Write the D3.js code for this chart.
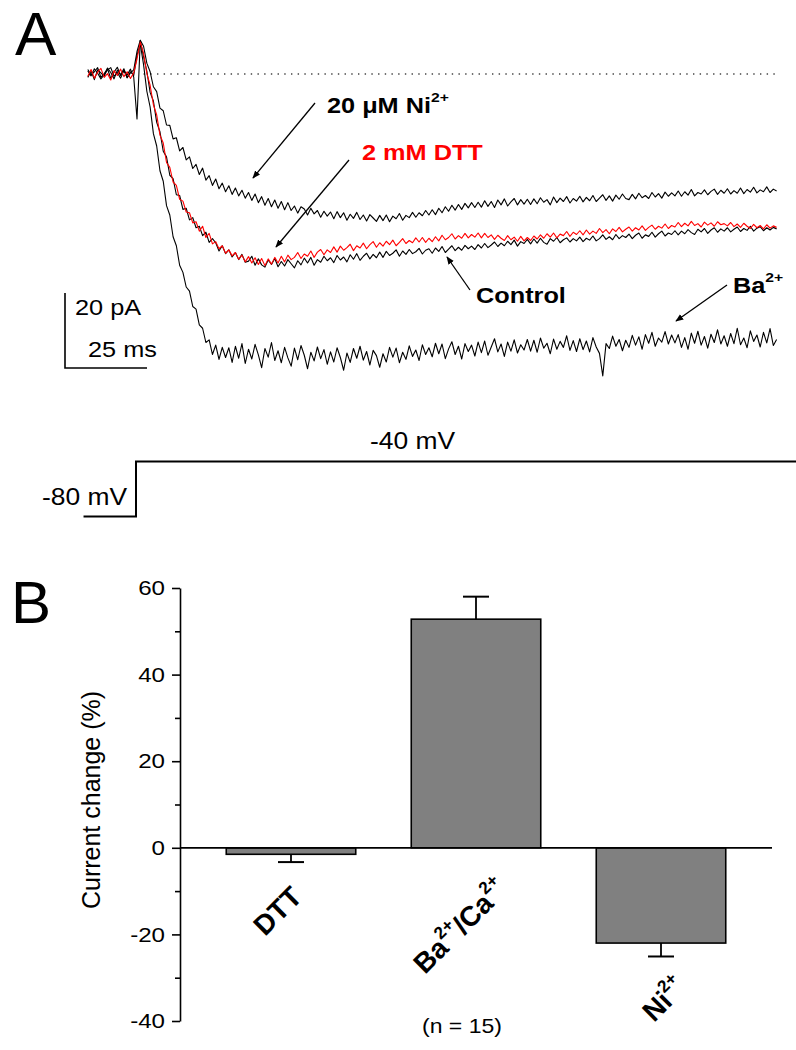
<!DOCTYPE html>
<html><head><meta charset="utf-8">
<script src="https://cdn.jsdelivr.net/npm/d3@7"></script>
<style>body{margin:0;background:#fff}svg{display:block}text{font-family:"Liberation Sans",Arial,Helvetica,sans-serif}</style>
</head><body><svg id="c" width="796" height="1050"></svg>
<script>
// ---------- Panel A data: whole-cell currents (pA), one sample per 1 ms from -15 ms ----------
const timeStartMs = -15, timeStepMs = 1;
const controlPA = [
 0.8,-0.5,1.4,0.2,-1.3,-0.2,1.1,1.7,-0.6,0.4,-1.1,0.9,-0.3,1.3,-0.8,
 -12,9,4.6,0.8,-4.9,-7.2,-12.9,-15.4,-20.6,-22.1,-27.0,-27.9,-32.2,-32.4,-36.1,
 -35.8,-38.9,-38.3,-41.0,-40.6,-43.1,-42.2,-44.9,-43.9,-45.0,-47.2,-45.8,-47.9,-46.9,-48.8,
 -47.6,-49.5,-48.1,-50.2,-49.9,-48.6,-51.0,-49.3,-50.9,-51.5,-49.6,-50.8,-49.2,-51.4,-50.0,
 -51.2,-49.5,-50.6,-51.7,-49.8,-50.9,-49.1,-50.4,-48.9,-51.0,-49.5,-50.2,-48.6,-49.8,-49.0,
 -50.3,-48.4,-49.6,-48.8,-50.1,-48.2,-49.4,-47.9,-49.7,-48.6,-47.8,-49.3,-48.1,-49.0,-47.5,
 -48.9,-47.3,-48.4,-47.8,-46.9,-48.6,-47.2,-48.1,-46.8,-47.9,-47.4,-46.5,-48.0,-47.0,-46.6,
 -47.8,-46.4,-47.3,-46.0,-47.6,-46.7,-45.8,-47.1,-46.2,-47.0,-45.7,-46.6,-45.9,-46.8,-45.5,
 -46.4,-45.2,-46.3,-45.6,-44.8,-46.0,-45.1,-45.8,-44.6,-45.5,-44.3,-45.9,-44.7,-45.2,-44.1,
 -45.3,-44.0,-45.1,-43.8,-44.9,-45.4,-43.9,-44.6,-43.6,-45.0,-44.2,-43.7,-44.8,-43.9,-44.5,
 -43.5,-44.7,-43.8,-44.3,-43.2,-44.5,-43.9,-42.9,-44.1,-43.4,-44.2,-42.8,-43.9,-43.1,-43.6,
 -42.7,-43.9,-43.0,-42.4,-43.8,-42.9,-43.3,-42.2,-43.5,-42.6,-41.9,-43.2,-42.4,-42.8,-41.8,
 -42.9,-41.9,-42.6,-41.5,-42.3,-42.8,-41.4,-42.1,-41.2,-42.5,-41.6,-41.0,-42.2,-41.3,-41.9,
 -41.0,-42.1,-41.4,-40.8,-42.0,-41.2,-41.7,-40.6,-41.9,-41.1,-40.7,-41.8,-41.0,-41.6,-40.9,
 -41.3];
const dttPA = [
 -0.6,1.2,-1.1,0.5,1.5,-0.9,0.1,-1.6,0.9,-0.4,1.3,-0.7,0.6,-1.2,0.3,
 4,8.5,5.5,0.1,-3.0,-8.2,-10.9,-16.3,-18.4,-23.6,-24.9,-28.8,-29.7,-33.4,-33.9,
 -36.8,-37.0,-39.7,-39.4,-41.9,-40.6,-43.6,-42.5,-45.3,-44.7,-46.6,-45.8,-47.8,-46.9,-48.5,
 -47.6,-49.4,-48.3,-50.1,-48.7,-50.4,-49.0,-50.8,-49.2,-51.1,-49.3,-50.7,-48.9,-50.4,-48.6,
 -50.1,-48.3,-49.5,-48.9,-47.6,-49.2,-48.0,-48.6,-47.2,-48.9,-47.5,-46.8,-48.2,-46.9,-47.6,
 -46.1,-47.5,-45.9,-47.0,-46.3,-45.4,-47.1,-45.8,-46.4,-45.1,-46.6,-45.5,-44.7,-46.2,-45.0,
 -45.9,-44.6,-45.5,-44.3,-45.8,-44.9,-43.9,-45.2,-44.4,-45.0,-43.7,-44.8,-43.6,-44.9,-43.8,
 -44.7,-43.4,-44.5,-43.0,-44.2,-43.6,-42.6,-44.0,-43.1,-43.8,-42.5,-43.7,-42.8,-43.5,-42.4,
 -43.7,-42.5,-43.6,-42.9,-44.1,-43.0,-43.8,-44.4,-43.1,-44.2,-43.5,-44.6,-43.3,-44.5,-43.6,
 -44.4,-43.2,-44.0,-42.9,-43.8,-42.6,-43.5,-42.4,-43.7,-42.7,-43.1,-42.0,-43.3,-42.2,-42.8,
 -41.8,-42.9,-41.6,-42.7,-41.9,-42.5,-41.2,-42.3,-41.5,-42.6,-41.3,-42.0,-40.9,-42.1,-41.4,
 -40.8,-41.9,-41.0,-41.6,-40.5,-41.7,-40.9,-40.3,-41.4,-40.6,-41.1,-40.0,-41.2,-40.4,-40.8,
 -39.6,-40.7,-39.8,-40.5,-39.3,-40.4,-39.9,-40.8,-39.5,-40.3,-39.7,-40.6,-39.4,-40.2,-39.9,
 -40.5,-39.6,-40.7,-40.0,-40.9,-39.8,-40.6,-41.2,-40.1,-41.0,-40.4,-41.3,-40.2,-41.1,-40.5,
 -40.9];
const niPA = [
 1.2,-0.3,0.6,1.7,-0.9,0.1,1.4,-1.2,0.5,1.8,-0.4,0.9,-1.0,0.3,1.1,
 6,9,7.4,2.9,0.6,-3.4,-4.7,-9.1,-9.8,-13.6,-13.7,-17.3,-17.0,-20.5,-19.6,
 -22.9,-22.1,-25.2,-24.1,-26.8,-25.1,-28.3,-27.1,-29.7,-28.0,-30.6,-29.1,-31.4,-29.8,-32.1,
 -30.4,-32.5,-31.0,-33.1,-31.6,-33.7,-32.0,-34.3,-32.7,-35.0,-33.2,-35.4,-33.6,-35.8,-34.0,
 -36.2,-34.3,-36.4,-35.2,-37.1,-35.4,-36.0,-37.6,-35.8,-37.3,-36.4,-38.2,-36.6,-37.9,-36.8,
 -38.6,-36.7,-38.3,-37.0,-39.0,-37.4,-38.5,-36.9,-38.8,-37.6,-39.2,-37.5,-38.4,-39.3,-37.7,
 -39.1,-37.6,-39.4,-37.9,-38.6,-37.2,-39.0,-37.7,-38.3,-36.9,-38.2,-37.0,-37.8,-36.4,-37.6,
 -36.2,-37.5,-35.8,-37.0,-35.4,-36.6,-35.0,-36.3,-34.8,-36.1,-34.5,-35.7,-34.3,-35.6,-34.2,
 -35.5,-33.8,-35.3,-34.0,-35.6,-33.6,-34.9,-33.3,-35.2,-34.1,-33.2,-34.9,-33.5,-34.7,-33.4,
 -34.8,-33.3,-34.6,-33.0,-34.2,-33.5,-34.9,-32.8,-34.3,-33.1,-34.0,-32.7,-34.4,-33.2,-33.9,
 -32.6,-34.1,-32.9,-33.8,-32.4,-34.0,-33.1,-32.2,-33.7,-32.5,-33.9,-32.3,-33.4,-32.0,-33.2,
 -33.5,-32.1,-33.3,-31.8,-33.0,-32.4,-33.2,-31.6,-32.8,-31.9,-33.1,-31.5,-32.6,-31.7,-32.5,
 -31.2,-32.6,-31.4,-32.3,-30.8,-32.5,-31.6,-32.0,-30.9,-32.2,-31.3,-30.7,-32.1,-31.0,-31.8,
 -30.6,-32.0,-31.1,-31.8,-30.4,-31.9,-30.8,-31.5,-30.2,-31.7,-30.9,-31.4,-30.1,-31.6,-30.7,
 -31.2];
const baPA = [
 -0.9,0.8,-1.5,1.1,0.3,-0.6,1.6,0.4,-1.3,1.0,-0.2,1.4,-1.0,0.6,-0.4,
 5,8,2.5,-4.6,-8.8,-15.9,-19.2,-25.8,-28.6,-35.1,-37.6,-43.4,-45.8,-51.0,-52.9,
 -56.8,-57.9,-62.0,-62.7,-66.9,-67.8,-71.6,-70.9,-74.8,-72.3,-76.1,-72.9,-75.6,-73.0,-76.9,
 -72.6,-75.8,-71.9,-77.2,-73.4,-76.0,-72.1,-74.9,-78.3,-73.2,-75.5,-71.6,-76.4,-73.8,-77.0,
 -72.9,-75.7,-77.9,-73.1,-76.2,-72.4,-75.0,-78.6,-74.2,-76.5,-72.8,-75.9,-73.5,-77.4,-74.1,
 -76.8,-73.0,-75.6,-79.0,-74.4,-76.9,-73.2,-75.8,-72.6,-76.3,-74.0,-77.6,-73.7,-75.1,-78.2,
 -74.6,-76.8,-72.9,-75.5,-73.1,-77.0,-74.2,-76.1,-72.5,-75.3,-73.6,-76.4,-72.2,-74.8,-73.0,
 -75.4,-71.8,-74.6,-72.0,-75.9,-73.3,-71.4,-74.8,-72.6,-76.0,-71.9,-74.0,-72.3,-75.2,-71.5,
 -74.3,-71.2,-75.0,-72.8,-70.6,-74.1,-72.0,-75.3,-71.5,-73.9,-70.9,-74.4,-72.2,-73.6,-70.8,
 -73.9,-71.0,-74.2,-70.4,-73.1,-71.8,-74.6,-70.7,-73.4,-71.3,-72.9,-69.8,-73.7,-71.1,-74.0,
 -70.6,-73.5,-71.2,-74.1,-70.3,-72.8,-74.5,-80.5,-71.9,-73.2,-69.9,-72.6,-70.8,-73.8,-71.0,
 -72.9,-69.7,-72.3,-70.1,-73.4,-69.5,-71.8,-68.9,-72.6,-70.4,-71.5,-68.7,-72.0,-69.6,-71.7,
 -69.5,-72.9,-70.3,-73.4,-69.1,-71.8,-68.6,-72.3,-70.0,-73.1,-69.4,-71.6,-68.2,-72.0,-69.8,
 -72.6,-69.2,-71.9,-67.8,-72.2,-70.4,-73.0,-68.5,-71.3,-69.6,-72.8,-68.9,-71.7,-67.9,-72.4,
 -70.8];
// voltage protocol
const voltTimeMs = [-16, 0, 0, 202];
const voltMV = [-80, -80, -40, -40];
// scale bar
const scaleBarPA = 20, scaleBarMs = 25;

// ---------- Panel B data ----------
const categories = ["DTT", "Ba/Ca", "Ni"];
const changePct = [-1.5, 52.8, -22.0];
const semPct = [1.8, 5.2, 3.1];
const majorTicks = [-40, -20, 0, 20, 40, 60];
const minorTicks = [-30, -10, 10, 30, 50];

// ---------- drawing ----------
const svg = d3.select("#c");
const SX = 1.15;
svg.append("defs").append("marker").attr("id","ah").attr("viewBox","0 0 10 10")
  .attr("refX",9).attr("refY",5).attr("markerWidth",8).attr("markerHeight",8)
  .attr("markerUnits","userSpaceOnUse").attr("orient","auto")
  .append("path").attr("d","M0,1 L10,5 L0,9 Z").attr("fill","#000");

function label(x, y, parts, o = {}) {
  const size = o.size || 22, sx = o.sx === undefined ? SX : o.sx;
  const t = svg.append("text")
    .attr("transform", `translate(${x},${y})` + (o.rot ? ` rotate(${o.rot})` : "") + ` scale(${sx},1)`)
    .attr("font-size", size).attr("font-weight", o.bold ? "bold" : "normal")
    .attr("fill", o.color || "#000").attr("text-anchor", o.anchor || "start");
  let raised = false;
  parts.forEach(p => {
    const sup = typeof p === "object";
    const s = t.append("tspan").text(sup ? p.sup : p);
    if (sup) { s.attr("font-size", size * 0.62).attr("dy", raised ? 0 : -size * 0.48); raised = true; }
    else if (raised) { s.attr("dy", size * 0.48); raised = false; }
  });
  return t;
}

// Panel A
const x = d3.scaleLinear().domain([0, 100]).range([137, 465]);
const y = d3.scaleLinear().domain([0, -20]).range([74, 149]);
const line = d3.line().x((d, i) => x(timeStartMs + i * timeStepMs)).y(d => y(d));

svg.append("line").attr("x1", x(2)).attr("x2", x(195)).attr("y1", y(0)).attr("y2", y(0))
  .attr("stroke", "#444").attr("stroke-width", 1.6).attr("stroke-dasharray", "1.4,5.3");

[[baPA, "#000"], [niPA, "#000"], [controlPA, "#000"], [dttPA, "#ff0000"]].forEach(([s, c]) => {
  svg.append("path").attr("d", line(s)).attr("fill", "none").attr("stroke", c)
    .attr("stroke-width", 1.1).attr("stroke-linejoin", "round");
});

// scale bar
const sbX = 65, sbY = 368;
svg.append("path").attr("fill", "none").attr("stroke", "#000").attr("stroke-width", 1.6)
  .attr("d", `M${sbX},${sbY - (y(-scaleBarPA) - y(0))}V${sbY}H${sbX + (x(scaleBarMs) - x(0))}`);
label(75, 315, ["20 pA"]);
label(88, 357, ["25 ms"]);

// voltage protocol
const vy = d3.scaleLinear().domain([-80, -40]).range([516.5, 461.5]);
const vx = d3.scaleLinear().domain([0, 100]).range([136, 464]);
svg.append("path").attr("fill", "none").attr("stroke", "#000").attr("stroke-width", 2)
  .attr("d", d3.line().x((d, i) => vx(voltTimeMs[i])).y(d => vy(d))(voltMV));
label(42, 505, ["-80 mV"], {size: 24, sx: 1.1});
label(370, 449, ["-40 mV"], {size: 24, sx: 1.1});

// annotations
function arrow(x1, y1, x2, y2) {
  svg.append("line").attr("x1", x1).attr("y1", y1).attr("x2", x2).attr("y2", y2)
    .attr("stroke", "#000").attr("stroke-width", 1.3).attr("marker-end", "url(#ah)");
}
arrow(315, 103, 253, 178);
arrow(349, 160, 276, 247);
arrow(470, 290, 447, 257);
arrow(727, 285, 676, 321);
label(327, 113, ["20 \u03bcM Ni", {sup: "2+"}], {bold: true});
label(362, 160, ["2 mM DTT"], {bold: true, color: "#ff0000"});
label(476, 303, ["Control"], {bold: true});
label(733, 293, ["Ba", {sup: "2+"}], {bold: true});

svg.append("text").attr("x", 15).attr("y", 55).attr("font-size", 62).text("A");

// Panel B
svg.append("text").attr("x", 11).attr("y", 623).attr("font-size", 60).text("B");
const by = d3.scaleLinear().domain([-40, 60]).range([1021, 588]);
const bx = d3.scaleBand().domain(categories).range([180, 772]).paddingInner(0.3).paddingOuter(0.25);

const ax = svg.append("g").attr("transform", "translate(180,0)")
  .call(d3.axisLeft(by).tickValues(majorTicks).tickSize(8).tickSizeOuter(0).tickPadding(15).tickFormat(d => String(d)));
ax.select(".domain").attr("stroke-width", 1.6);
ax.selectAll(".tick line").attr("stroke-width", 1.6);
ax.selectAll(".tick text").attr("font-size", 21).attr("font-family", null)
  .attr("transform", `scale(${SX},1)`).attr("x", -15 / SX);
const ax2 = svg.append("g").attr("transform", "translate(180,0)")
  .call(d3.axisLeft(by).tickValues(minorTicks).tickSize(5).tickSizeOuter(0).tickFormat(""));
ax2.select(".domain").remove();
ax2.selectAll(".tick line").attr("stroke-width", 1.6);

svg.append("text").attr("transform", "translate(100,800) rotate(-90)").attr("text-anchor", "middle")
  .attr("font-size", 25).text("Current change (%)");

// bars
categories.forEach((c, i) => {
  const v = changePct[i];
  svg.append("rect").attr("x", bx(c)).attr("width", bx.bandwidth())
    .attr("y", by(Math.max(0, v))).attr("height", Math.abs(by(v) - by(0)))
    .attr("fill", "#808080").attr("stroke", "#000").attr("stroke-width", 1.6);
  const cx = bx(c) + bx.bandwidth() / 2, e = v + Math.sign(v) * semPct[i];
  svg.append("line").attr("x1", cx).attr("x2", cx).attr("y1", by(v)).attr("y2", by(e))
    .attr("stroke", "#000").attr("stroke-width", 1.8);
  svg.append("line").attr("x1", cx - 13).attr("x2", cx + 13).attr("y1", by(e)).attr("y2", by(e))
    .attr("stroke", "#000").attr("stroke-width", 2);
});
svg.append("line").attr("x1", 180).attr("x2", 772).attr("y1", by(0)).attr("y2", by(0))
  .attr("stroke", "#000").attr("stroke-width", 1.8);

// category labels (rotated)
label(265, 937, ["DTT"], {bold: true, size: 28, rot: -45, sx: 1});
label(425, 975, ["Ba", {sup: "2+"}, "/Ca", {sup: "2+"}], {bold: true, size: 28, rot: -45, sx: 1});
label(654, 1023, ["Ni", {sup: "2+"}], {bold: true, size: 28, rot: -45, sx: 1});
label(422, 1033, ["(n = 15)"], {size: 20});
</script></body></html>
